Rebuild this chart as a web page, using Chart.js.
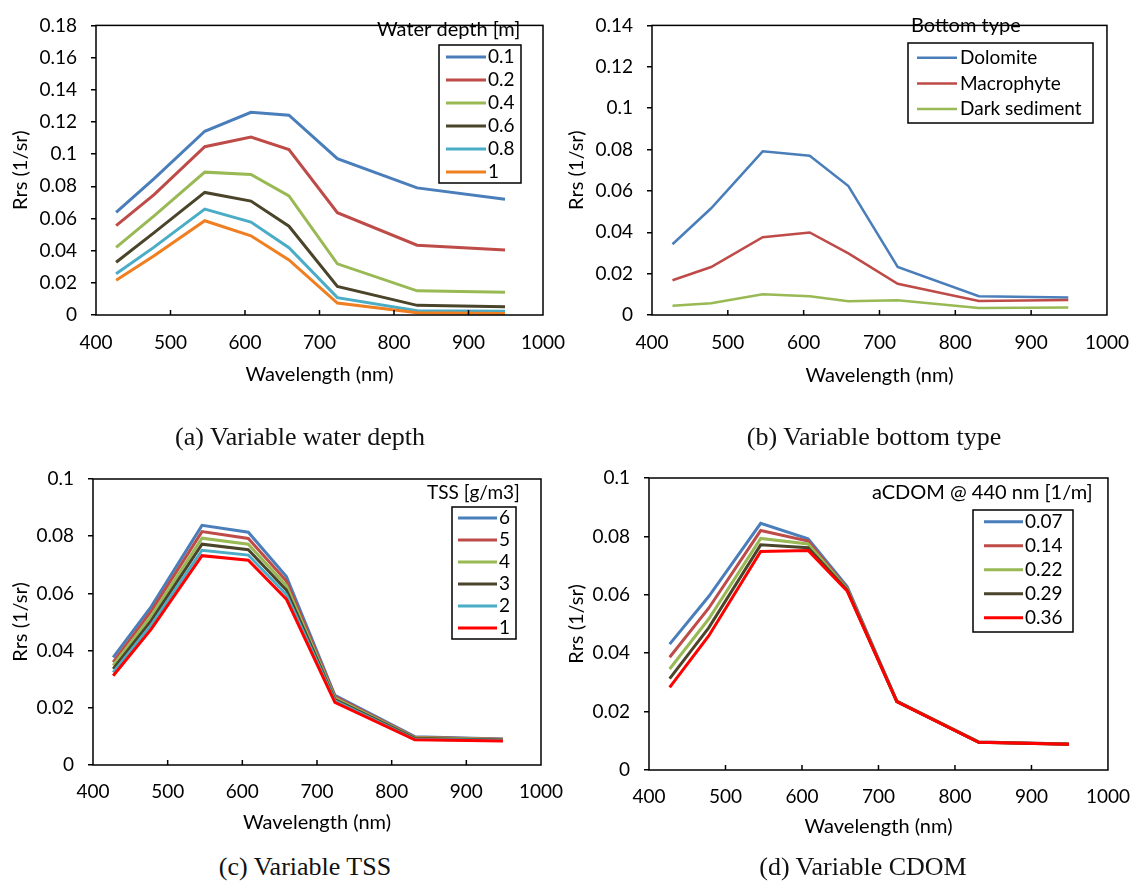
<!DOCTYPE html>
<html>
<head>
<meta charset="utf-8">
<script src="https://cdn.jsdelivr.net/npm/chart.js@4.4.0/dist/chart.umd.min.js"></script>
<style>
  body { margin: 0; background: #fff; width: 1137px; height: 885px; position: relative; overflow: hidden; }
  canvas { position: absolute; }
  .cap { position: absolute; font-family: "Liberation Serif", serif; font-size: 26px; color: #111;
         transform: translate(-50%, -50%); white-space: nowrap; }
</style>
</head>
<body>
<canvas id="chartA" width="575" height="400" style="left:0;top:0"></canvas>
<canvas id="chartB" width="577" height="400" style="left:560px;top:0"></canvas>
<canvas id="chartC" width="575" height="410" style="left:0;top:440px"></canvas>
<canvas id="chartD" width="577" height="415" style="left:560px;top:440px"></canvas>
<div class="cap" style="left:300px;top:437px">(a) Variable water depth</div>
<div class="cap" style="left:874px;top:437px">(b) Variable bottom type</div>
<div class="cap" style="left:305px;top:867px">(c) Variable TSS</div>
<div class="cap" style="left:863px;top:867px">(d) Variable CDOM</div>
<script>
// band centres (nm)
const wavelengths = [427, 478, 546, 608, 659, 724, 831, 949];
const xTicks = [400, 500, 600, 700, 800, 900, 1000];

// (a) water depth
const depthLabels = ['0.1', '0.2', '0.4', '0.6', '0.8', '1'];
const depth01 = [0.0638, 0.0848, 0.1142, 0.1260, 0.1242, 0.0972, 0.0790, 0.0720];
const depth02 = [0.0556, 0.0748, 0.1046, 0.1106, 0.1028, 0.0636, 0.0434, 0.0404];
const depth04 = [0.0420, 0.0616, 0.0888, 0.0874, 0.0740, 0.0318, 0.0150, 0.0142];
const depth06 = [0.0328, 0.0512, 0.0762, 0.0708, 0.0552, 0.0178, 0.0060, 0.0052];
const depth08 = [0.0256, 0.0422, 0.0658, 0.0578, 0.0418, 0.0108, 0.0026, 0.0024];
const depth10 = [0.0216, 0.0368, 0.0586, 0.0492, 0.0342, 0.0074, 0.0014, 0.0010];
const yTicksA = [0, 0.02, 0.04, 0.06, 0.08, 0.1, 0.12, 0.14, 0.16, 0.18];

// (b) bottom type
const bottomLabels = ['Dolomite', 'Macrophyte', 'Dark sediment'];
const dolomite = [0.0342, 0.0516, 0.0791, 0.0770, 0.0623, 0.0232, 0.0091, 0.0085];
const macrophyte = [0.0168, 0.0232, 0.0376, 0.0399, 0.0298, 0.0151, 0.0068, 0.0073];
const darkSediment = [0.0045, 0.0057, 0.0100, 0.0091, 0.0066, 0.0071, 0.0034, 0.0036];
const yTicksB = [0, 0.02, 0.04, 0.06, 0.08, 0.1, 0.12, 0.14];

// (c) TSS
const tssLabels = ['6', '5', '4', '3', '2', '1'];
const tss6 = [0.0376, 0.0554, 0.0838, 0.0814, 0.0659, 0.0244, 0.0099, 0.0091];
const tss5 = [0.0360, 0.0538, 0.0816, 0.0792, 0.0643, 0.0239, 0.0097, 0.0090];
const tss4 = [0.0348, 0.0521, 0.0793, 0.0772, 0.0627, 0.0234, 0.0095, 0.0089];
const tss3 = [0.0336, 0.0505, 0.0772, 0.0753, 0.0612, 0.0229, 0.0093, 0.0087];
const tss2 = [0.0324, 0.0490, 0.0751, 0.0734, 0.0596, 0.0224, 0.0090, 0.0086];
const tss1 = [0.0312, 0.0475, 0.0732, 0.0716, 0.0580, 0.0219, 0.0088, 0.0084];
const yTicksC = [0, 0.02, 0.04, 0.06, 0.08, 0.1];

// (d) CDOM
const cdomLabels = ['0.07', '0.14', '0.22', '0.29', '0.36'];
const cdom007 = [0.0431, 0.0594, 0.0845, 0.0792, 0.0628, 0.0236, 0.0096, 0.0089];
const cdom014 = [0.0386, 0.0554, 0.0820, 0.0784, 0.0622, 0.0235, 0.0096, 0.0089];
const cdom022 = [0.0346, 0.0517, 0.0793, 0.0774, 0.0619, 0.0235, 0.0095, 0.0088];
const cdom029 = [0.0313, 0.0487, 0.0771, 0.0761, 0.0616, 0.0234, 0.0095, 0.0088];
const cdom036 = [0.0283, 0.0459, 0.0748, 0.0752, 0.0613, 0.0234, 0.0095, 0.0088];
const yTicksD = [0, 0.02, 0.04, 0.06, 0.08, 0.1];

const BLUE = '#4A7EBB', RED = '#BE4B48', GREEN = '#98B954', OLIVE = '#4A452A',
      CYAN = '#4BACC6', ORANGE = '#F07F22', PURE_RED = '#FF0000';
const FONT = 'Lato, "Open Sans", sans-serif';

// box round the plot area + small inward ticks on the x axis
const framePlugin = {
  id: 'frame',
  afterDraw(chart) {
    const { ctx, chartArea: a } = chart;
    const xs = chart.scales.x;
    ctx.save();
    ctx.strokeStyle = '#000';
    ctx.lineWidth = 1.5;
    ctx.strokeRect(a.left, a.top, a.right - a.left, a.bottom - a.top);
    xs.ticks.forEach(t => {
      const px = xs.getPixelForValue(t.value);
      if (px <= a.left + 1 || px >= a.right - 1) return;
      ctx.beginPath();
      ctx.moveTo(px, a.bottom);
      ctx.lineTo(px, a.bottom - 5);
      ctx.stroke();
    });
    ctx.restore();
  }
};

// Excel-style legend: title above a framed list
const boxLegendPlugin = {
  id: 'boxLegend',
  afterDraw(chart, args, o) {
    const ctx = chart.ctx;
    ctx.save();
    ctx.textBaseline = 'middle';
    ctx.textAlign = 'left';
    ctx.fillStyle = '#000';
    ctx.font = o.titleFont;
    ctx.fillText(o.title, o.titleX, o.titleY);
    ctx.fillStyle = '#fff';
    ctx.fillRect(o.box[0], o.box[1], o.box[2], o.box[3]);
    ctx.strokeStyle = '#000';
    ctx.lineWidth = 1.5;
    ctx.strokeRect(o.box[0], o.box[1], o.box[2], o.box[3]);
    ctx.font = o.font;
    chart.data.datasets.forEach((ds, i) => {
      const y = o.rowY + i * o.rowGap;
      ctx.strokeStyle = ds.borderColor;
      ctx.lineWidth = ds.borderWidth;
      ctx.beginPath();
      ctx.moveTo(o.lineX[0], y);
      ctx.lineTo(o.lineX[1], y);
      ctx.stroke();
      ctx.fillStyle = '#000';
      ctx.fillText(ds.label, o.textX, y);
    });
    ctx.restore();
  }
};

function buildDatasets(labels, series, colors, width) {
  return series.map((s, i) => ({
    label: labels[i],
    data: s.map((v, j) => ({ x: wavelengths[j], y: v })),
    borderColor: colors[i],
    backgroundColor: colors[i],
    borderWidth: width,
    pointRadius: 0,
    tension: 0,
    order: series.length - i
  }));
}

function makeChart(id, datasets, yTicks, p) {
  const yMax = yTicks[yTicks.length - 1];
  return new Chart(document.getElementById(id), {
    type: 'line',
    data: { datasets },
    options: {
      responsive: false,
      animation: false,
      layout: { padding: { left: 0, top: p.top, right: p.right, bottom: 0 } },
      plugins: {
        legend: { display: false },
        tooltip: { enabled: false },
        boxLegend: p.legend
      },
      scales: {
        x: {
          type: 'linear',
          min: 400, max: 1000,
          afterBuildTicks: s => { s.ticks = xTicks.map(v => ({ value: v })); },
          afterFit: s => { s.height = 85; },
          grid: { display: false },
          border: { display: false },
          ticks: { color: '#000', font: { family: FONT, size: 19 }, padding: p.xTickPad, maxRotation: 0,
                   callback: v => String(v) },
          title: { display: true, text: 'Wavelength (nm)', color: '#000',
                   font: { family: FONT, size: 20 }, padding: { top: 0, bottom: p.xTitlePad } }
        },
        y: {
          min: 0, max: yMax,
          afterBuildTicks: s => { s.ticks = yTicks.map(v => ({ value: v })); },
          afterFit: s => { s.width = p.yWidth; },
          grid: { drawOnChartArea: false, drawTicks: true, tickLength: 5, color: '#000', lineWidth: 1.5 },
          border: { display: false },
          ticks: { color: '#000', font: { family: FONT, size: 19 }, padding: 14,
                   callback: v => String(parseFloat(v.toFixed(2))) },
          title: { display: true, text: 'Rrs (1/sr)', color: '#000',
                   font: { family: FONT, size: 20 }, padding: { top: p.yTitlePad, bottom: 0 } }
        }
      }
    },
    plugins: [framePlugin, boxLegendPlugin]
  });
}

const legendFont = '19px ' + FONT;
const legendTitleFont = '20px ' + FONT;

makeChart('chartA',
  buildDatasets(depthLabels, [depth01, depth02, depth04, depth06, depth08, depth10],
    [BLUE, RED, GREEN, OLIVE, CYAN, ORANGE], 3),
  yTicksA,
  { top: 15, right: 32, yWidth: 96, xTickPad: 8, xTitlePad: 13, yTitlePad: 9,
    legend: { font: legendFont, titleFont: legendTitleFont, title: 'Water depth [m]', titleX: 377, titleY: 30,
              box: [439, 45, 82, 138], rowY: 57, rowGap: 23, lineX: [446, 486], textX: 488 } });

makeChart('chartB',
  buildDatasets(bottomLabels, [dolomite, macrophyte, darkSediment], [BLUE, RED, GREEN], 2.5),
  yTicksB,
  { top: 13, right: 30, yWidth: 92, xTickPad: 8, xTitlePad: 12, yTitlePad: 5,
    legend: { font: legendFont, titleFont: legendTitleFont, title: 'Bottom type', titleX: 351, titleY: 26,
              box: [348, 43, 185, 80], rowY: 57.7, rowGap: 25.7, lineX: [357, 397], textX: 400 } });

makeChart('chartC',
  buildDatasets(tssLabels, [tss6, tss5, tss4, tss3, tss2, tss1],
    [BLUE, RED, GREEN, OLIVE, CYAN, PURE_RED], 3),
  yTicksC,
  { top: 39, right: 34, yWidth: 93, xTickPad: 7, xTitlePad: 15, yTitlePad: 9,
    legend: { font: legendFont, titleFont: '19px ' + FONT, title: 'TSS [g/m3]', titleX: 427, titleY: 53,
              box: [452, 67, 64, 132], rowY: 78, rowGap: 22, lineX: [458, 497], textX: 499 } });

makeChart('chartD',
  buildDatasets(cdomLabels, [cdom007, cdom014, cdom022, cdom029, cdom036],
    [BLUE, RED, GREEN, OLIVE, PURE_RED], 3),
  yTicksD,
  { top: 38, right: 27, yWidth: 89, xTickPad: 7, xTitlePad: 16, yTitlePad: 5,
    legend: { font: legendFont, titleFont: legendTitleFont, title: 'aCDOM @ 440 nm [1/m]', titleX: 312, titleY: 53,
              box: [413, 70, 100, 122], rowY: 81.7, rowGap: 24, lineX: [424, 463], textX: 465 } });
</script>
</body>
</html>
